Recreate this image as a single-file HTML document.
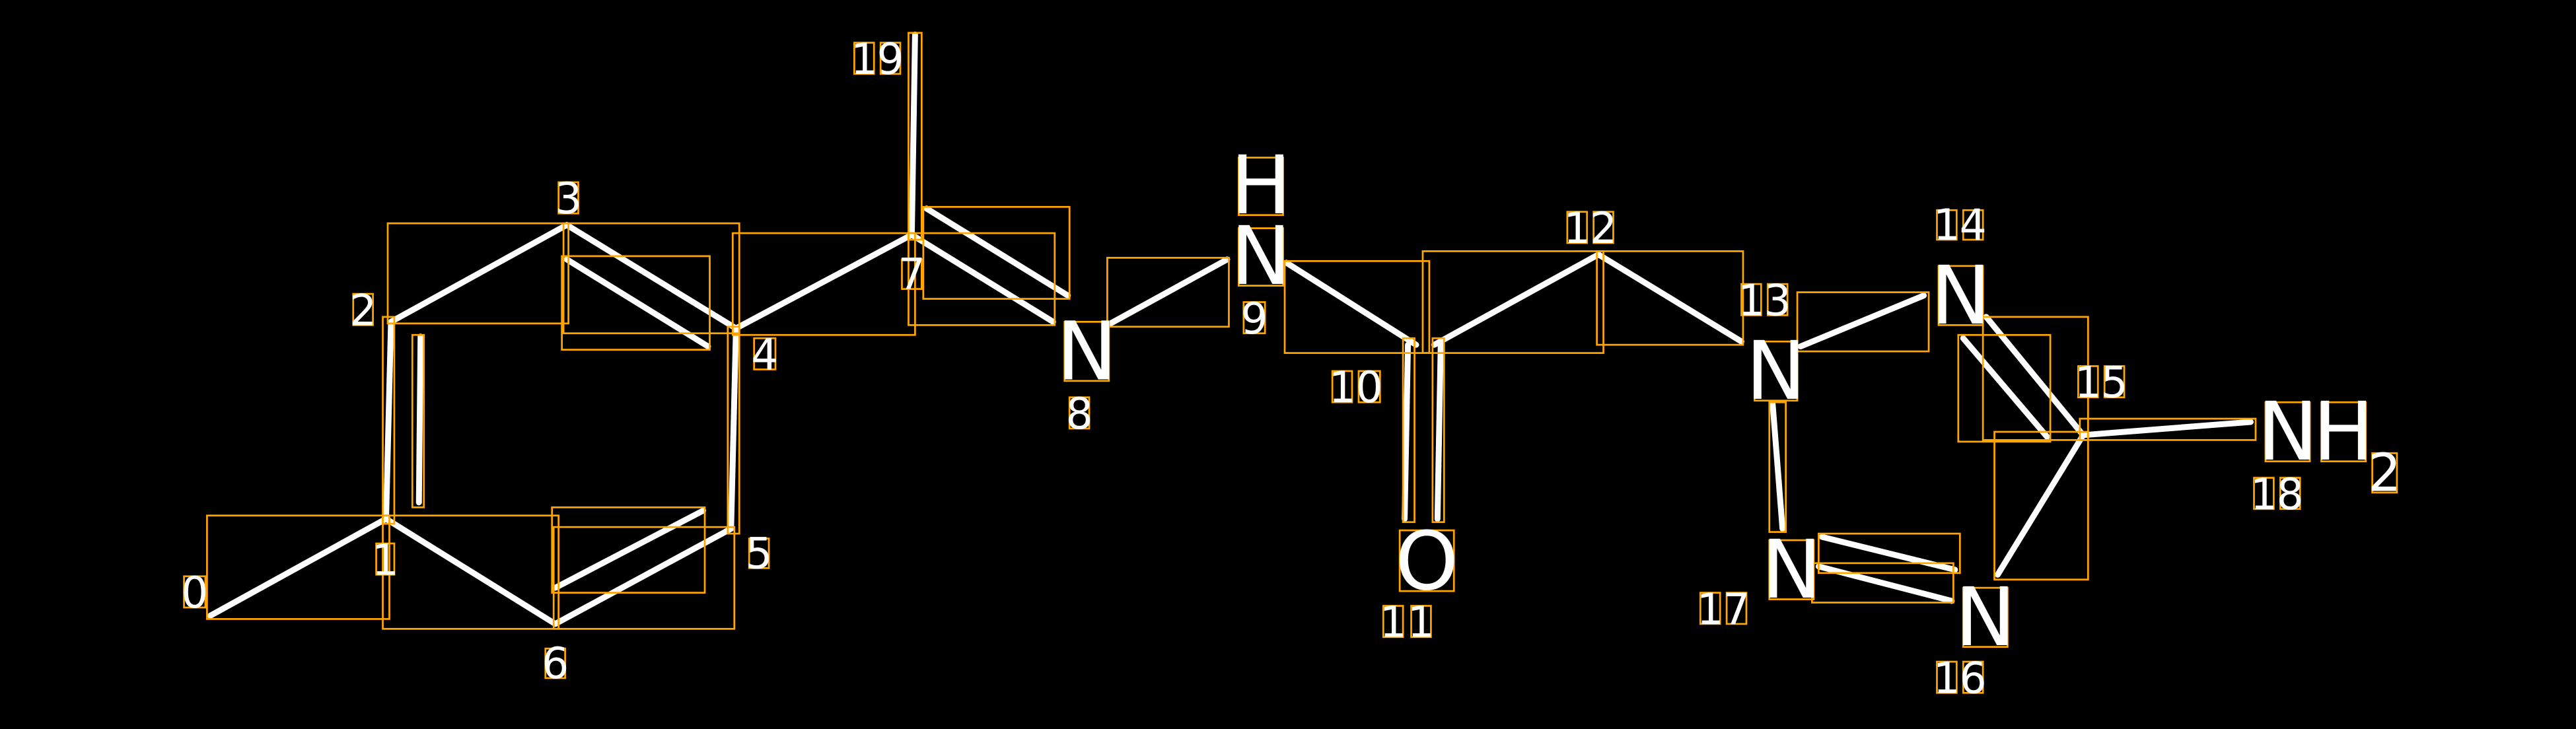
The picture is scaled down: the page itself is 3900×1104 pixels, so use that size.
<!DOCTYPE html>
<html><head><meta charset="utf-8"><style>html,body{margin:0;padding:0;background:#000;width:3900px;height:1104px;overflow:hidden}svg{display:block}</style></head>
<body>
<svg width="3900" height="1104" viewBox="0 0 1568 444" preserveAspectRatio="none" xmlns="http://www.w3.org/2000/svg">
<rect width="1568" height="444" fill="#000"/>
<g stroke="#fff" stroke-width="3.6" stroke-linecap="round" fill="none">
<line x1="128" y1="375" x2="235" y2="316"/>
<line x1="235" y1="316" x2="238" y2="196"/>
<line x1="255" y1="306" x2="256" y2="205"/>
<line x1="238" y1="196" x2="345" y2="137"/>
<line x1="345" y1="137" x2="448" y2="200"/>
<line x1="345" y1="158" x2="431" y2="211"/>
<line x1="448" y1="200" x2="445" y2="322"/>
<line x1="445" y1="322" x2="338" y2="380"/>
<line x1="338" y1="358" x2="428" y2="311"/>
<line x1="338" y1="380" x2="235" y2="316"/>
<line x1="448" y1="200" x2="555" y2="143"/>
<line x1="555" y1="143" x2="557" y2="21"/>
<line x1="555" y1="143" x2="641" y2="196"/>
<line x1="564" y1="127" x2="650" y2="180"/>
<line x1="676" y1="197" x2="747" y2="158"/>
<line x1="783" y1="160" x2="862" y2="210"/>
<line x1="857" y1="210" x2="855" y2="316"/>
<line x1="877" y1="208" x2="875" y2="316"/>
<line x1="873" y1="210" x2="973" y2="155"/>
<line x1="973" y1="155" x2="1060" y2="208"/>
<line x1="1096" y1="211" x2="1171" y2="180"/>
<line x1="1079" y1="246" x2="1085" y2="322"/>
<line x1="1209" y1="193" x2="1268" y2="265"/>
<line x1="1195" y1="206" x2="1246" y2="266"/>
<line x1="1268" y1="265" x2="1216" y2="350"/>
<line x1="1268" y1="265" x2="1370" y2="257"/>
<line x1="1107" y1="345" x2="1188" y2="366"/>
<line x1="1109" y1="327" x2="1190" y2="347"/>
</g>
<g stroke="#ffa500" stroke-width="1.1" fill="none">
<rect x="126" y="314" width="111" height="63"/>
<rect x="233" y="314" width="107" height="69"/>
<rect x="337" y="321" width="110" height="62"/>
<rect x="336" y="309" width="93" height="52"/>
<rect x="233" y="193" width="7" height="126"/>
<rect x="251" y="204" width="7" height="105"/>
<rect x="236" y="136" width="110" height="61"/>
<rect x="343" y="136" width="107" height="67"/>
<rect x="342" y="156" width="90" height="57"/>
<rect x="443" y="199" width="7" height="126"/>
<rect x="446" y="142" width="111" height="62"/>
<rect x="553" y="20" width="8" height="126"/>
<rect x="553" y="142" width="89" height="56"/>
<rect x="562" y="126" width="89" height="56"/>
<rect x="674" y="157" width="74" height="42"/>
<rect x="782" y="159" width="88" height="56"/>
<rect x="866" y="153" width="110" height="62"/>
<rect x="972" y="153" width="89" height="57"/>
<rect x="854" y="206" width="7" height="112"/>
<rect x="872" y="206" width="7" height="112"/>
<rect x="1094" y="178" width="80" height="36"/>
<rect x="1207" y="193" width="64" height="75"/>
<rect x="1192" y="204" width="56" height="65"/>
<rect x="1266" y="255" width="107" height="13"/>
<rect x="1214" y="263" width="57" height="90"/>
<rect x="1077" y="245" width="10" height="79"/>
<rect x="1107" y="325" width="86" height="24"/>
<rect x="1103" y="343" width="86" height="24"/>
<!-- label boxes -->
<rect x="648" y="196" width="27" height="36"/>
<rect x="754" y="139" width="27" height="35"/>
<rect x="754" y="96" width="27" height="35"/>
<rect x="852" y="323" width="33" height="37"/>
<rect x="1068" y="208" width="26" height="36"/>
<rect x="1180" y="162" width="27" height="36"/>
<rect x="1077" y="329" width="27" height="36"/>
<rect x="1195" y="358" width="27" height="36"/>
<rect x="1379" y="245" width="27" height="36"/>
<rect x="1413" y="245" width="27" height="36"/>
<rect x="1444" y="276" width="15" height="24"/>
<rect x="520" y="26" width="12" height="19"/><rect x="536" y="26" width="12" height="19"/>
<rect x="340" y="111" width="12" height="19"/>
<rect x="215" y="179" width="12" height="19"/>
<rect x="459" y="206" width="13" height="19"/>
<rect x="549" y="158" width="12" height="18"/>
<rect x="456" y="328" width="12" height="18"/>
<rect x="229" y="331" width="11" height="19"/>
<rect x="112" y="351" width="13" height="19"/>
<rect x="332" y="395" width="12" height="18"/>
<rect x="651" y="242" width="12" height="19"/>
<rect x="757" y="184" width="13" height="19"/>
<rect x="811" y="226" width="12" height="19"/><rect x="827" y="226" width="13" height="19"/>
<rect x="842" y="369" width="12" height="19"/><rect x="859" y="369" width="12" height="19"/>
<rect x="954" y="129" width="12" height="19"/><rect x="970" y="129" width="12" height="19"/>
<rect x="1060" y="173" width="12" height="19"/><rect x="1076" y="173" width="12" height="19"/>
<rect x="1179" y="128" width="12" height="18"/><rect x="1195" y="128" width="12" height="18"/>
<rect x="1265" y="223" width="12" height="19"/><rect x="1281" y="223" width="12" height="19"/>
<rect x="1372" y="291" width="12" height="19"/><rect x="1388" y="291" width="12" height="19"/>
<rect x="1035" y="361" width="12" height="19"/><rect x="1051" y="361" width="12" height="19"/>
<rect x="1179" y="403" width="12" height="19"/><rect x="1195" y="403" width="12" height="19"/>
</g>
<g fill="#fff" font-family="'DejaVu Sans', 'Liberation Sans', sans-serif" text-anchor="middle">
<g font-size="49">
<text x="661.5" y="231">N</text>
<text x="767.5" y="173">N</text>
<text x="767.5" y="130">H</text>
<text x="868.5" y="359">O</text>
<text x="1081" y="243">N</text>
<text x="1193.5" y="197">N</text>
<text x="1090.5" y="364">N</text>
<text x="1208.5" y="393">N</text>
<text x="1392.5" y="280">N</text>
<text x="1426.5" y="280">H</text>
</g>
<text x="1451.5" y="299" font-size="32">2</text>
<g font-size="26">
<text x="526" y="45">1</text><text x="542" y="45">9</text>
<text x="346" y="130">3</text>
<text x="221" y="198">2</text>
<text x="465.5" y="225">4</text>
<text x="555" y="176">7</text>
<text x="462" y="346">5</text>
<text x="234.5" y="350">1</text>
<text x="118.5" y="370">0</text>
<text x="338" y="413">6</text>
<text x="657" y="261">8</text>
<text x="763.5" y="203">9</text>
<text x="817" y="245">1</text><text x="833.5" y="245">0</text>
<text x="848" y="388">1</text><text x="865" y="388">1</text>
<text x="960" y="148">1</text><text x="976" y="148">2</text>
<text x="1066" y="192">1</text><text x="1082" y="192">3</text>
<text x="1185" y="146">1</text><text x="1201" y="146">4</text>
<text x="1271" y="242">1</text><text x="1287" y="242">5</text>
<text x="1378" y="310">1</text><text x="1394" y="310">8</text>
<text x="1041" y="380">1</text><text x="1057" y="380">7</text>
<text x="1185" y="422">1</text><text x="1201" y="422">6</text>
</g>
</g>
</svg>
</body></html>
